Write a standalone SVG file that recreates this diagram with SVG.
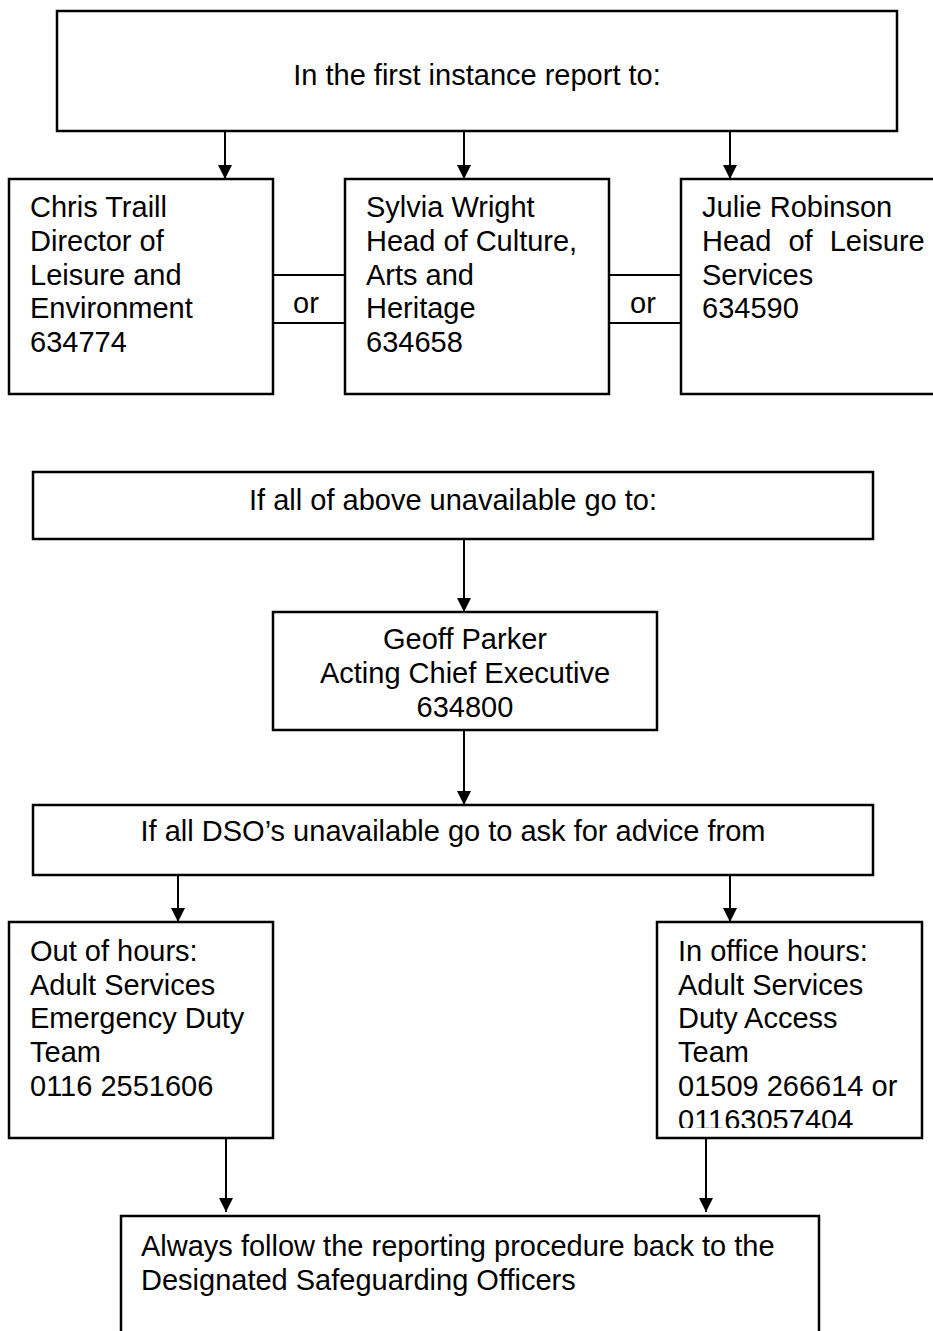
<svg xmlns="http://www.w3.org/2000/svg" width="933" height="1331" viewBox="0 0 933 1331">
<style>
.box{fill:#fff;stroke:#000;stroke-width:2.5}
.t{font-family:"Liberation Sans",Arial,sans-serif;font-size:29px;fill:#000}
.c{text-anchor:middle}
.ln{stroke:#000;stroke-width:2;fill:none}
</style>
<defs>
<marker id="ah" markerUnits="userSpaceOnUse" markerWidth="14" markerHeight="14" refX="14" refY="7" orient="auto">
<path d="M0,0 L14,7 L0,14 z" fill="#000"/>
</marker>
<clipPath id="clipR"><rect x="657" y="922" width="265" height="206"/></clipPath>
</defs>
<rect width="933" height="1331" fill="#fff"/>

<g id="connectors">
<line class="ln" x1="225" y1="131" x2="225" y2="179" marker-end="url(#ah)"/>
<line class="ln" x1="464" y1="131" x2="464" y2="179" marker-end="url(#ah)"/>
<line class="ln" x1="730" y1="131" x2="730" y2="179" marker-end="url(#ah)"/>
<line class="ln" x1="273" y1="275" x2="345" y2="275"/>
<line class="ln" x1="273" y1="323" x2="345" y2="323"/>
<line class="ln" x1="609" y1="275" x2="681" y2="275"/>
<line class="ln" x1="609" y1="323" x2="681" y2="323"/>
<line class="ln" x1="464" y1="539" x2="464" y2="612" marker-end="url(#ah)"/>
<line class="ln" x1="464" y1="730" x2="464" y2="805" marker-end="url(#ah)"/>
<line class="ln" x1="178" y1="875" x2="178" y2="922" marker-end="url(#ah)"/>
<line class="ln" x1="730" y1="875" x2="730" y2="922" marker-end="url(#ah)"/>
<line class="ln" x1="226" y1="1138" x2="226" y2="1212" marker-end="url(#ah)"/>
<line class="ln" x1="706" y1="1138" x2="706" y2="1212" marker-end="url(#ah)"/>
<text class="t c" x="306" y="313">or</text>
<text class="t c" x="643" y="313">or</text>
</g>

<g id="top">
<rect class="box" x="57" y="11" width="840" height="120"/>
<text class="t c" x="477" y="85">In the first instance report to:</text>
</g>

<g id="chris">
<rect class="box" x="9" y="179" width="264" height="215"/>
<text class="t" x="30" y="217">Chris Traill</text>
<text class="t" x="30" y="251">Director of</text>
<text class="t" x="30" y="285">Leisure and</text>
<text class="t" x="30" y="318">Environment</text>
<text class="t" x="30" y="352">634774</text>
</g>

<g id="sylvia">
<rect class="box" x="345" y="179" width="264" height="215"/>
<text class="t" x="366" y="217">Sylvia Wright</text>
<text class="t" x="366" y="251">Head of Culture,</text>
<text class="t" x="366" y="285">Arts and</text>
<text class="t" x="366" y="318">Heritage</text>
<text class="t" x="366" y="352">634658</text>
</g>

<g id="julie">
<rect class="box" x="681" y="179" width="270" height="215"/>
<text class="t" x="702" y="217">Julie Robinson</text>
<text class="t" x="702" y="251" word-spacing="9">Head of Leisure</text>
<text class="t" x="702" y="285">Services</text>
<text class="t" x="702" y="318">634590</text>
</g>

<g id="unavailable">
<rect class="box" x="33" y="472" width="840" height="67"/>
<text class="t c" x="453" y="510">If all of above unavailable go to:</text>
</g>

<g id="geoff">
<rect class="box" x="273" y="612" width="384" height="118"/>
<text class="t c" x="465" y="649">Geoff Parker</text>
<text class="t c" x="465" y="683">Acting Chief Executive</text>
<text class="t c" x="465" y="717">634800</text>
</g>

<g id="dso">
<rect class="box" x="33" y="805" width="840" height="70"/>
<text class="t c" x="453" y="841">If all DSO’s unavailable go to ask for advice from</text>
</g>

<g id="outofhours">
<rect class="box" x="9" y="922" width="264" height="216"/>
<text class="t" x="30" y="961">Out of hours:</text>
<text class="t" x="30" y="995">Adult Services</text>
<text class="t" x="30" y="1028">Emergency Duty</text>
<text class="t" x="30" y="1062">Team</text>
<text class="t" x="30" y="1096">0116 2551606</text>
</g>

<g id="inoffice">
<rect class="box" x="657" y="922" width="265" height="216"/>
<g clip-path="url(#clipR)">
<text class="t" x="678" y="961">In office hours:</text>
<text class="t" x="678" y="995">Adult Services</text>
<text class="t" x="678" y="1028">Duty Access</text>
<text class="t" x="678" y="1062">Team</text>
<text class="t" x="678" y="1096">01509 266614 or</text>
<text class="t" x="678" y="1130">01163057404</text>
</g>
</g>

<g id="always">
<path class="box" d="M121,1340 V1216 H819 V1340"/>
<text class="t" x="141" y="1256">Always follow the reporting procedure back to the</text>
<text class="t" x="141" y="1290">Designated Safeguarding Officers</text>
</g>
</svg>
